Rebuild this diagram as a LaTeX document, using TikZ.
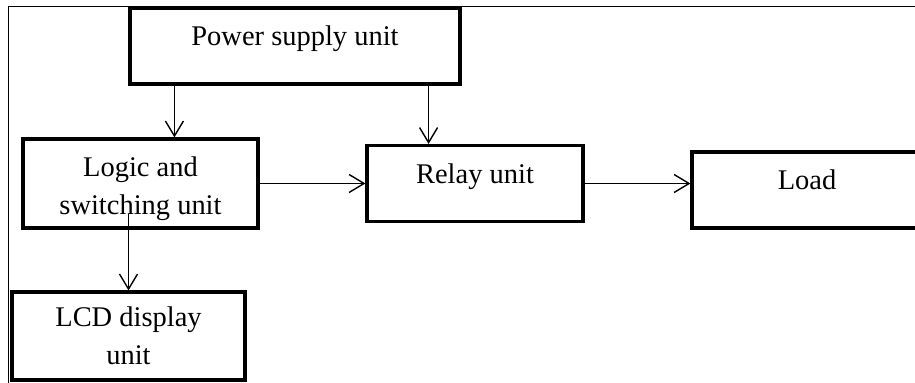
\documentclass[tikz,border=0pt]{standalone}
\usepackage{fontspec}
\setmainfont{Liberation Serif}
\usetikzlibrary{positioning,arrows.meta}

\begin{document}
\begin{tikzpicture}[on grid,node distance=3cm,
bloc/.style={draw,line width=1.8pt,inner sep=0pt,align=center,
             font=\fontsize{16.2}{21.6}\selectfont},
ligne/.style={text height=.4cm,text depth=.4cm}]

\tikzset{lien/.style={-{Straight Barb[length=3mm,width=3.6mm]},line width=.8pt}}

\clip (0,0) rectangle (18.3,-7.66);
% cadre
\draw[line width=.55pt] (0.16,-7.66) |- (18.3,-0.12);

\node[bloc] (L) at (2.81,-3.67) [minimum width=4.7cm,minimum height=1.78cm] {\rule{0pt}{.6cm}Logic and\\switching unit};
\node[bloc,ligne] (P) [minimum width=6.6cm,minimum height=1.52cm,above right=2.75cm and 3.09cm of L] {Power supply unit};
\node[bloc,ligne] (R) [minimum width=4.32cm,minimum height=1.52cm,right=6.69cm of L] {Relay unit};
\node[bloc,ligne] (D) [minimum width=4.6cm,minimum height=1.52cm,right=6.64cm of R,yshift=-.13cm] {Load};
\node[bloc] (E) [minimum width=4.66cm,minimum height=1.76cm,below=3.05cm of L,xshift=-.24cm] {LCD display\\unit};

\draw[lien] ([xshift=.92cm]P.south west) -- ([xshift=.92cm]P.south west |- L.north);
\draw[lien] ([xshift=-.66cm]P.south east) -- ([xshift=-.66cm]P.south east |- R.north);
\draw[lien] (L.east) -- (L.east -| R.west);
\draw[lien] (R.east) -- (R.east -| D.west);
\draw[lien] ([yshift=.32cm]L.south -| E.north) -- (E.north);
\end{tikzpicture}
\end{document}
